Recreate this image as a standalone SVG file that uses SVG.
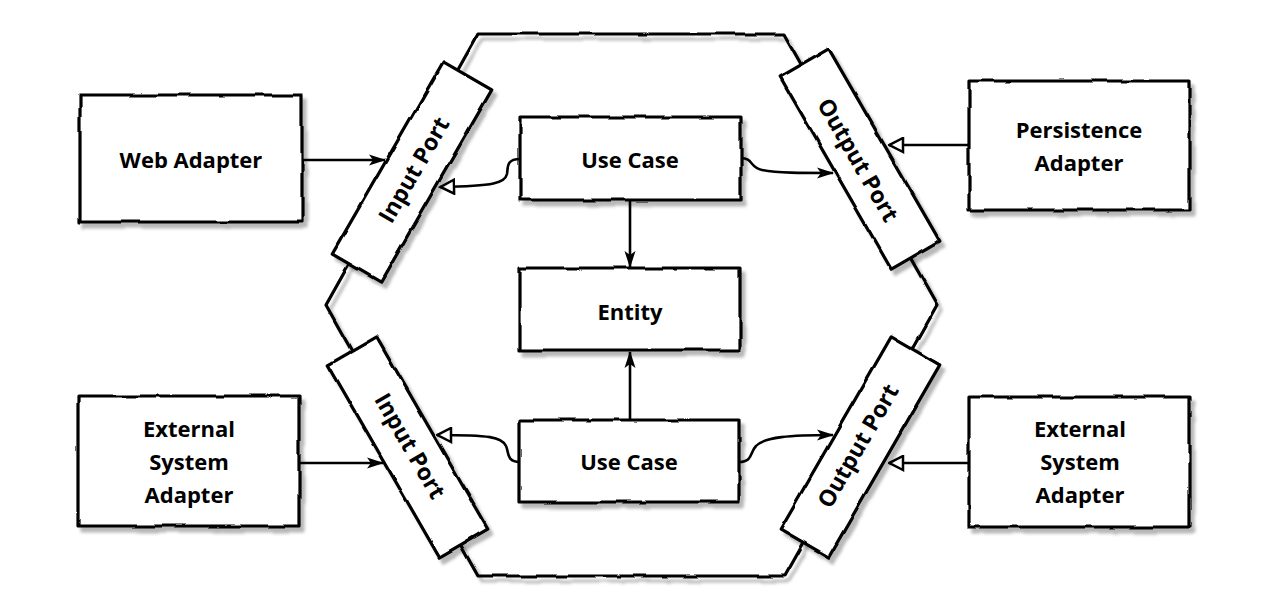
<svg xmlns="http://www.w3.org/2000/svg" width="1280" height="607" viewBox="0 0 1280 607">
<defs>
<style>
.sh{fill:#fff;stroke:#000;stroke-width:3.2;stroke-linejoin:round}
.hex{fill:none;stroke:#000;stroke-width:3.2;stroke-linejoin:round}
.t{font-family:"Open Sans","Liberation Sans",sans-serif;font-weight:700;font-size:22px;fill:#000;text-anchor:middle}
.pt{font-size:23px}
.c{fill:none;stroke:#000;stroke-width:2.6}
</style>
<filter id="sk" x="-10%" y="-10%" width="125%" height="125%">
<feTurbulence type="fractalNoise" baseFrequency="0.035" numOctaves="2" seed="4" result="n"/>
<feDisplacementMap in="SourceGraphic" in2="n" scale="3.5" xChannelSelector="R" yChannelSelector="G" result="w"/>
<feColorMatrix in="w" type="matrix" values="0 0 0 0 0  0 0 0 0 0  0 0 0 0 0  0 0 0 0.28 0" result="a"/>
<feGaussianBlur in="a" stdDeviation="1.6" result="b"/>
<feOffset in="b" dx="4" dy="5" result="s"/>
<feMerge><feMergeNode in="s"/><feMergeNode in="w"/></feMerge>
</filter>
<marker id="af" viewBox="0 0 17 12" refX="16" refY="6" markerWidth="17" markerHeight="12" markerUnits="userSpaceOnUse" orient="auto">
<path d="M0,0.5 L17,6 L0,11.5 L4,6 z" fill="#000"/>
</marker>
<marker id="ah" viewBox="0 0 17 17" refX="15.5" refY="8.5" markerWidth="17" markerHeight="17" markerUnits="userSpaceOnUse" orient="auto">
<path d="M1.5,1.5 L15,8.5 L1.5,15.5 z" fill="#fff" stroke="#000" stroke-width="2.5" stroke-linejoin="miter"/>
</marker>
</defs>
<rect width="1280" height="607" fill="#fff"/>

<g id="hexagon" filter="url(#sk)">
<polygon class="hex" points="478,34 784,34 937,305 784,576 478,576 326,305"/>
</g>

<g id="connectors">
<path class="c" d="M302,160 L385,160" marker-end="url(#af)"/>
<path class="c" d="M520,159 C506,159 508,168 507,174 C505,183 495,186 440,187" marker-end="url(#ah)"/>
<path class="c" d="M741,158 C753,158 750,168 762,170 C778,173 800,173 833,173" marker-end="url(#af)"/>
<path class="c" d="M969,145 L889,145" marker-end="url(#ah)"/>
<path class="c" d="M630,200 L630,267" marker-end="url(#af)"/>
<path class="c" d="M630,420 L630,352" marker-end="url(#af)"/>
<path class="c" d="M299,463 L383,463" marker-end="url(#af)"/>
<path class="c" d="M520,462 C506,462 509,452 506,446 C502,437 490,435 437,435" marker-end="url(#ah)"/>
<path class="c" d="M739,462 C753,462 750,452 756,446 C764,437 790,435 833,435" marker-end="url(#af)"/>
<path class="c" d="M969,463 L889,463" marker-end="url(#ah)"/>
</g>

<g id="web-adapter">
<g filter="url(#sk)"><rect class="sh" x="80" y="95" width="222" height="127"/></g>
<text class="t" x="191" y="168">Web Adapter</text>
</g>

<g id="persistence-adapter">
<g filter="url(#sk)"><rect class="sh" x="969" y="81" width="221" height="129"/></g>
<text class="t" x="1079" y="138">Persistence</text>
<text class="t" x="1079" y="171">Adapter</text>
</g>

<g id="external-system-adapter-left">
<g filter="url(#sk)"><rect class="sh" x="78" y="396" width="221" height="130"/></g>
<text class="t" x="189" y="437">External</text>
<text class="t" x="189" y="470">System</text>
<text class="t" x="189" y="503">Adapter</text>
</g>

<g id="external-system-adapter-right">
<g filter="url(#sk)"><rect class="sh" x="969" y="397" width="221" height="130"/></g>
<text class="t" x="1080" y="437">External</text>
<text class="t" x="1080" y="470">System</text>
<text class="t" x="1080" y="503">Adapter</text>
</g>

<g id="use-case-top">
<g filter="url(#sk)"><rect class="sh" x="520" y="117" width="221" height="83"/></g>
<text class="t" x="630" y="168">Use Case</text>
</g>

<g id="entity">
<g filter="url(#sk)"><rect class="sh" x="520" y="268" width="220" height="82"/></g>
<text class="t" x="630" y="320">Entity</text>
</g>

<g id="use-case-bottom">
<g filter="url(#sk)"><rect class="sh" x="519" y="420" width="220" height="82"/></g>
<text class="t" x="629" y="470">Use Case</text>
</g>

<g id="input-port-top">
<g filter="url(#sk)"><rect class="sh" x="-111" y="-28" width="222" height="56" transform="translate(412,172) rotate(-60)"/></g>
<text class="t pt" x="0" y="8" transform="translate(414,170) rotate(-60)">Input Port</text>
</g>

<g id="output-port-top">
<g filter="url(#sk)"><rect class="sh" x="-111" y="-28" width="222" height="56" transform="translate(860,159) rotate(60)"/></g>
<text class="t pt" x="0" y="8" transform="translate(858,160) rotate(60)">Output Port</text>
</g>

<g id="input-port-bottom">
<g filter="url(#sk)"><rect class="sh" x="-111" y="-28" width="222" height="56" transform="translate(408,447) rotate(60)"/></g>
<text class="t pt" x="0" y="8" transform="translate(410,446) rotate(60)">Input Port</text>
</g>

<g id="output-port-bottom">
<g filter="url(#sk)"><rect class="sh" x="-111" y="-28" width="222" height="56" transform="translate(860,447) rotate(-60)"/></g>
<text class="t pt" x="0" y="8" transform="translate(858,446) rotate(-60)">Output Port</text>
</g>
</svg>
